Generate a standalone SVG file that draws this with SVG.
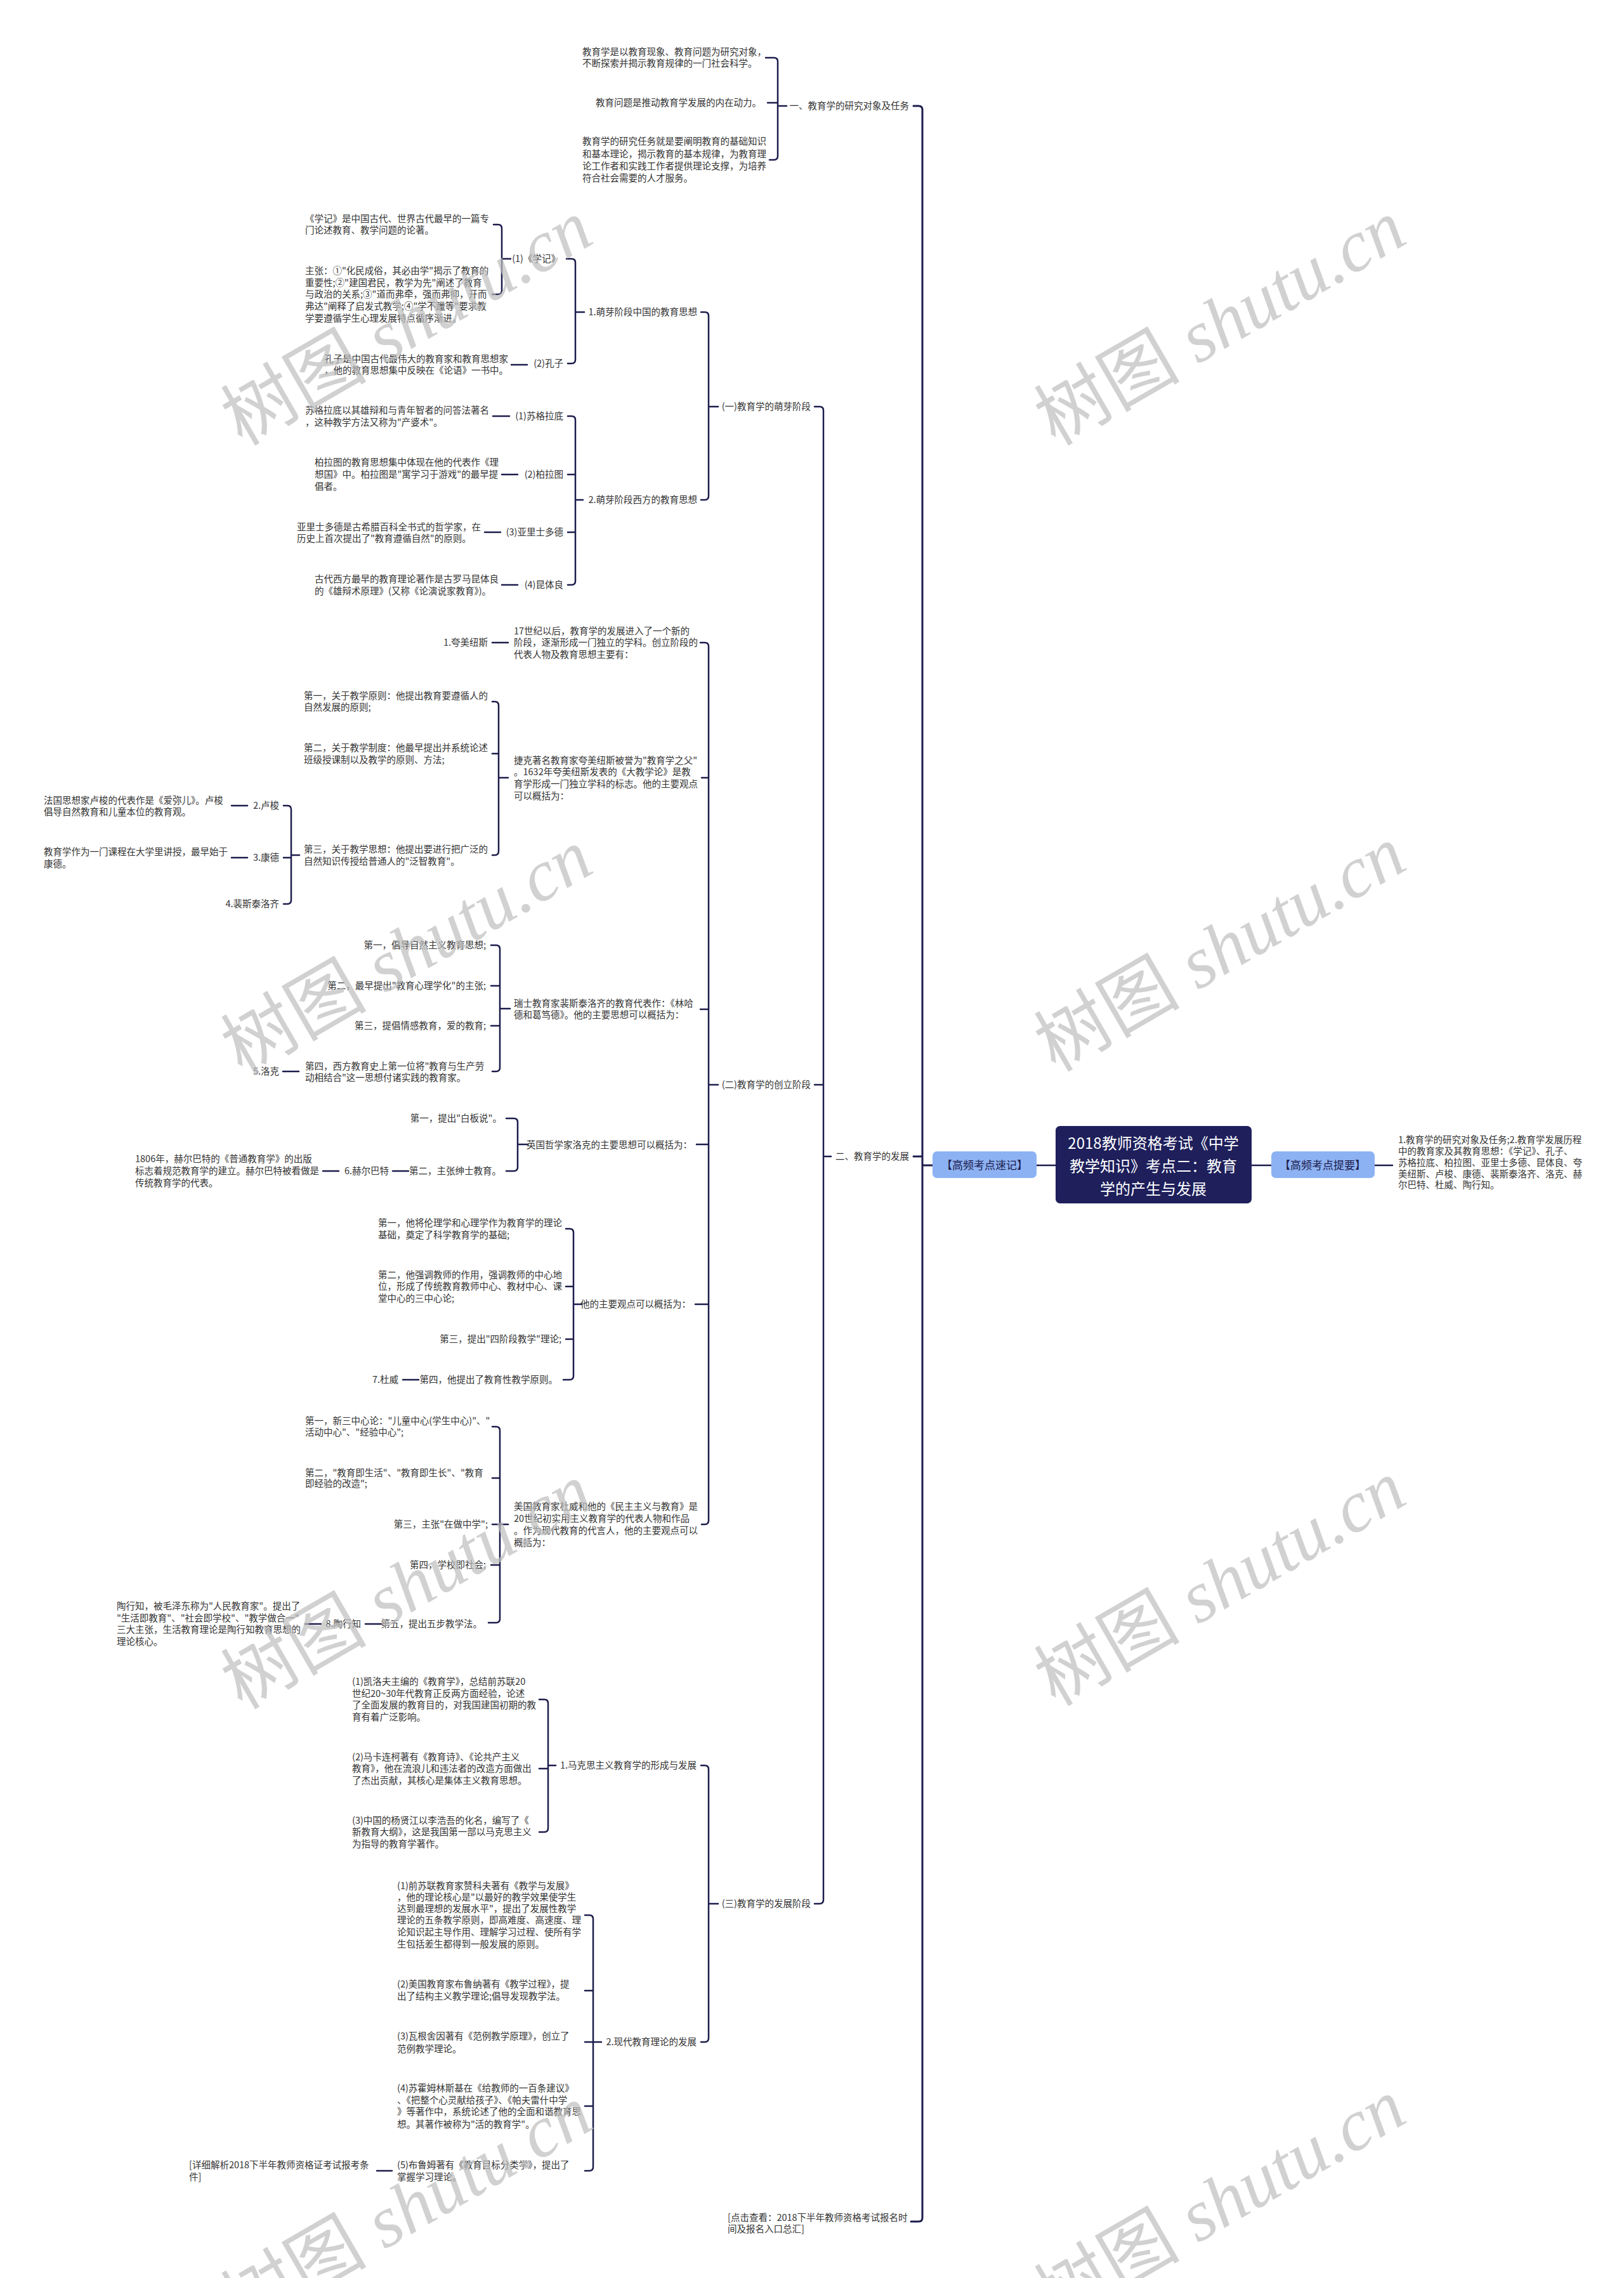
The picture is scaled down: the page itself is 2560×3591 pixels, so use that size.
<svg xmlns="http://www.w3.org/2000/svg" width="2560" height="3591" viewBox="0 0 2560 3591">
<style>
.t{font-family:"Noto Sans CJK SC","Noto Sans",sans-serif;font-size:14.5px;fill:#333}
.e{text-anchor:end}
.c{fill:none;stroke:#1c1c4c;stroke-width:2.5;stroke-linecap:round}
.blue{fill:#8db2f3}
.bt{font-family:"Noto Sans CJK SC","Noto Sans",sans-serif;font-size:17px;fill:#1c1c4c;text-anchor:middle}
.rt{font-family:"Noto Sans CJK SC","Noto Sans",sans-serif;font-size:24px;fill:#fff;text-anchor:middle}
.wm{font-size:115px;fill:#bdbdbd;fill-opacity:0.7;text-anchor:middle}
.wc{font-family:"Noto Sans CJK SC",sans-serif}
.wl{font-family:"Liberation Serif",serif;font-style:italic}
</style>
<rect width="2560" height="3591" fill="#fff"/>

<g id="connectors">
<path class="c" d="M1207,91 H1220 Q1226,91 1226,97 V246 Q1226,252 1220,252 H1213 M1210,162 H1226 M1226,167 H1240"/>
<path class="c" style="stroke-width:3" d="M1440,167 H1448 Q1454,167 1454,173 V3496 Q1454,3502 1448,3502 H1436 M1440,1823 H1454 M1454,1837 H1470"/>
<path class="c" d="M1284,641 H1292 Q1298,641 1298,647 V2995 Q1298,3001 1292,3001 H1284 M1284,1710 H1298 M1298,1823 H1310"/>
<path class="c" d="M1105,492 H1111 Q1117,492 1117,498 V782 Q1117,788 1111,788 H1105 M1117,641 H1132"/>
<path class="c" d="M1104,1013 H1111 Q1117,1013 1117,1019 V2397 Q1117,2403 1111,2403 H1106 M1106,1226 H1117 M1104,1591 H1117 M1098,1804 H1117 M1096,2056 H1117 M1117,1710 H1132"/>
<path class="c" d="M1105,2783 H1111 Q1117,2783 1117,2789 V3213 Q1117,3219 1111,3219 H1105 M1117,3001 H1132"/>
<path class="c" d="M893,408 H901 Q907,408 907,414 V567 Q907,573 901,573 H895 M907,492 H921"/>
<path class="c" d="M778,354 H785 Q791,354 791,360 V458 Q791,464 785,464 H776 M791,408 H805"/>
<path class="c" d="M806,575 H831"/>
<path class="c" d="M895,656 H901 Q907,656 907,662 V916 Q907,922 901,922 H895 M895,748 H907 M895,839 H907 M907,788 H919"/>
<path class="c" d="M777,656 H803 M791,748 H816 M764,839 H789 M791,922 H816"/>
<path class="c" d="M776,1013 H801"/>
<path class="c" d="M776,1106 H780 Q786,1106 786,1112 V1342 Q786,1348 780,1348 H776 M776,1188 H786 M786,1226 H801"/>
<path class="c" d="M447,1270 H453 Q459,1270 459,1276 V1419 Q459,1425 453,1425 H447 M447,1352 H459 M459,1348 H472"/>
<path class="c" d="M365,1270 H390 M365,1352 H390"/>
<path class="c" d="M774,1490 H782 Q788,1490 788,1496 V1683 Q788,1689 782,1689 H776 M774,1554 H788 M774,1617 H788 M788,1590 H804"/>
<path class="c" d="M446,1689 H471"/>
<path class="c" d="M798,1763 H810 Q816,1763 816,1769 V1840 Q816,1846 810,1846 H798 M816,1804 H832"/>
<path class="c" d="M619,1846 H644 M509,1846 H534"/>
<path class="c" d="M892,1937 H898 Q904,1937 904,1943 V2169 Q904,2175 898,2175 H888 M892,2028 H904 M892,2111 H904 M904,2056 H917"/>
<path class="c" d="M635,2175 H660"/>
<path class="c" d="M776,2249 H782 Q788,2249 788,2255 V2552 Q788,2558 782,2558 H770 M776,2330 H788 M776,2403 H801 M774,2467 H788"/>
<path class="c" d="M576,2560 H601 M481,2560 H506"/>
<path class="c" d="M850,2679 H858 Q864,2679 864,2685 V2882 Q864,2888 858,2888 H850 M850,2788 H864 M864,2783 H876"/>
<path class="c" d="M922,3019 H929 Q935,3019 935,3025 V3416 Q935,3422 929,3422 H922 M922,3138 H935 M922,3320 H935 M922,3219 H948"/>
<path class="c" d="M594,3422 H618"/>
<path class="c" d="M1634,1837 H1664 M1973,1837 H2004 M2167,1837 H2195"/>
</g>

<g id="root">
<rect x="1664" y="1775" width="309" height="122" rx="7" fill="#1e1f5b"/>
<text class="rt" x="1818" y="1811">2018教师资格考试《中学</text>
<text class="rt" x="1818" y="1847">教学知识》考点二：教育</text>
<text class="rt" x="1818" y="1883">学的产生与发展</text>
</g>
<g id="n-sujiji">
<rect class="blue" x="1470" y="1815" width="164" height="42" rx="7"/>
<text class="bt" x="1552" y="1843">【高频考点速记】</text>
</g>
<g id="n-tiyao">
<rect class="blue" x="2004" y="1815" width="163" height="42" rx="7"/>
<text class="bt" x="2085" y="1843">【高频考点提要】</text>
</g>
<g id="n-tiyao-text">
<text class="t" x="2204" y="1802">1.教育学的研究对象及任务;2.教育学发展历程</text>
<text class="t" x="2204" y="1820">中的教育家及其教育思想：《学记》、孔子、</text>
<text class="t" x="2204" y="1838">苏格拉底、柏拉图、亚里士多德、昆体良、夸</text>
<text class="t" x="2204" y="1856">美纽斯、卢梭、康德、裴斯泰洛齐、洛克、赫</text>
<text class="t" x="2204" y="1873">尔巴特、杜威、陶行知。</text>
</g>

<g id="n-yi"><text class="t e" x="1433" y="172">一、教育学的研究对象及任务</text></g>
<g id="n-yi-a">
<text class="t" x="918" y="87">教育学是以教育现象、教育问题为研究对象，</text>
<text class="t" x="918" y="105">不断探索并揭示教育规律的一门社会科学。</text>
</g>
<g id="n-yi-b"><text class="t e" x="1200" y="167">教育问题是推动教育学发展的内在动力。</text></g>
<g id="n-yi-c">
<text class="t" x="918" y="228">教育学的研究任务就是要阐明教育的基础知识</text>
<text class="t" x="918" y="248">和基本理论，揭示教育的基本规律，为教育理</text>
<text class="t" x="918" y="267">论工作者和实践工作者提供理论支撑，为培养</text>
<text class="t" x="918" y="286">符合社会需要的人才服务。</text>
</g>

<g id="n-er"><text class="t e" x="1433" y="1828">二、教育学的发展</text></g>
<g id="n-dianji">
<text class="t" x="1147" y="3501">[点击查看：2018下半年教师资格考试报名时</text>
<text class="t" x="1147" y="3519">间及报名入口总汇]</text>
</g>

<g id="n-s1"><text class="t e" x="1278" y="646">(一)教育学的萌芽阶段</text></g>
<g id="n-s2"><text class="t e" x="1278" y="1715">(二)教育学的创立阶段</text></g>
<g id="n-s3"><text class="t e" x="1278" y="3006">(三)教育学的发展阶段</text></g>

<g id="n-zg"><text class="t e" x="1099" y="497">1.萌芽阶段中国的教育思想</text></g>
<g id="n-xj"><text class="t e" x="883" y="413">(1)《学记》</text></g>
<g id="n-xj1">
<text class="t" x="481" y="350">《学记》是中国古代、世界古代最早的一篇专</text>
<text class="t" x="481" y="368">门论述教育、教学问题的论著。</text>
</g>
<g id="n-xj2">
<text class="t" x="481" y="432">主张：①"化民成俗，其必由学"揭示了教育的</text>
<text class="t" x="481" y="451">重要性;②"建国君民，教学为先"阐述了教育</text>
<text class="t" x="481" y="469">与政治的关系;③"道而弗牵，强而弗抑，开而</text>
<text class="t" x="481" y="488">弗达"阐释了启发式教学;④"学不躐等"要求教</text>
<text class="t" x="481" y="507">学要遵循学生心理发展特点循序渐进。</text>
</g>
<g id="n-kz"><text class="t e" x="888" y="578">(2)孔子</text></g>
<g id="n-kz1">
<text class="t" x="511" y="571">孔子是中国古代最伟大的教育家和教育思想家</text>
<text class="t" x="511" y="589">，他的教育思想集中反映在《论语》一书中。</text>
</g>

<g id="n-xf"><text class="t e" x="1099" y="793">2.萌芽阶段西方的教育思想</text></g>
<g id="n-sg"><text class="t e" x="888" y="661">(1)苏格拉底</text></g>
<g id="n-sg1">
<text class="t" x="481" y="652">苏格拉底以其雄辩和与青年智者的问答法著名</text>
<text class="t" x="481" y="671">，这种教学方法又称为"产婆术"。</text>
</g>
<g id="n-bl"><text class="t e" x="888" y="753">(2)柏拉图</text></g>
<g id="n-bl1">
<text class="t" x="496" y="734">柏拉图的教育思想集中体现在他的代表作《理</text>
<text class="t" x="496" y="753">想国》中。柏拉图是"寓学习于游戏"的最早提</text>
<text class="t" x="496" y="772">倡者。</text>
</g>
<g id="n-yl"><text class="t e" x="888" y="844">(3)亚里士多德</text></g>
<g id="n-yl1">
<text class="t" x="468" y="836">亚里士多德是古希腊百科全书式的哲学家，在</text>
<text class="t" x="468" y="854">历史上首次提出了"教育遵循自然"的原则。</text>
</g>
<g id="n-kt"><text class="t e" x="888" y="927">(4)昆体良</text></g>
<g id="n-kt1">
<text class="t" x="496" y="918">古代西方最早的教育理论著作是古罗马昆体良</text>
<text class="t" x="496" y="937">的《雄辩术原理》(又称《论演说家教育》)。</text>
</g>

<g id="n-k0">
<text class="t" x="810" y="1000">17世纪以后，教育学的发展进入了一个新的</text>
<text class="t" x="810" y="1018">阶段，逐渐形成一门独立的学科。创立阶段的</text>
<text class="t" x="810" y="1037">代表人物及教育思想主要有：</text>
</g>
<g id="n-kmn"><text class="t e" x="769" y="1018">1.夸美纽斯</text></g>
<g id="n-jk">
<text class="t" x="810" y="1204">捷克著名教育家夸美纽斯被誉为"教育学之父"</text>
<text class="t" x="810" y="1222">。1632年夸美纽斯发表的《大教学论》是教</text>
<text class="t" x="810" y="1241">育学形成一门独立学科的标志。他的主要观点</text>
<text class="t" x="810" y="1260">可以概括为：</text>
</g>
<g id="n-jk1">
<text class="t" x="479" y="1102">第一，关于教学原则：他提出教育要遵循人的</text>
<text class="t" x="479" y="1120">自然发展的原则;</text>
</g>
<g id="n-jk2">
<text class="t" x="479" y="1184">第二，关于教学制度：他最早提出并系统论述</text>
<text class="t" x="479" y="1203">班级授课制以及教学的原则、方法;</text>
</g>
<g id="n-jk3">
<text class="t" x="479" y="1344">第三，关于教学思想：他提出要进行把广泛的</text>
<text class="t" x="479" y="1363">自然知识传授给普通人的"泛智教育"。</text>
</g>
<g id="n-ls"><text class="t e" x="440" y="1275">2.卢梭</text></g>
<g id="n-ls1">
<text class="t" x="69" y="1267">法国思想家卢梭的代表作是《爱弥儿》。卢梭</text>
<text class="t" x="69" y="1285">倡导自然教育和儿童本位的教育观。</text>
</g>
<g id="n-kd"><text class="t e" x="440" y="1357">3.康德</text></g>
<g id="n-kd1">
<text class="t" x="69" y="1348">教育学作为一门课程在大学里讲授，最早始于</text>
<text class="t" x="69" y="1367">康德。</text>
</g>
<g id="n-pst"><text class="t e" x="440" y="1430">4.裴斯泰洛齐</text></g>

<g id="n-rs">
<text class="t" x="810" y="1587">瑞士教育家裴斯泰洛齐的教育代表作：《林哈</text>
<text class="t" x="810" y="1605">德和葛笃德》。他的主要思想可以概括为：</text>
</g>
<g id="n-rs1"><text class="t e" x="766" y="1495">第一，倡导自然主义教育思想;</text></g>
<g id="n-rs2"><text class="t e" x="766" y="1559">第二，最早提出"教育心理学化"的主张;</text></g>
<g id="n-rs3"><text class="t e" x="766" y="1622">第三，提倡情感教育，爱的教育;</text></g>
<g id="n-rs4">
<text class="t" x="481" y="1686">第四，西方教育史上第一位将"教育与生产劳</text>
<text class="t" x="481" y="1704">动相结合"这一思想付诸实践的教育家。</text>
</g>
<g id="n-lk"><text class="t e" x="440" y="1694">5.洛克</text></g>

<g id="n-yg"><text class="t e" x="1091" y="1810">英国哲学家洛克的主要思想可以概括为：</text></g>
<g id="n-yg1"><text class="t e" x="791" y="1768">第一，提出"白板说"。</text></g>
<g id="n-yg2"><text class="t e" x="790" y="1851">第二，主张绅士教育。</text></g>
<g id="n-hebt"><text class="t e" x="613" y="1851">6.赫尔巴特</text></g>
<g id="n-hebt1">
<text class="t" x="213" y="1832">1806年，赫尔巴特的《普通教育学》的出版</text>
<text class="t" x="213" y="1851">标志着规范教育学的建立。赫尔巴特被看做是</text>
<text class="t" x="213" y="1870">传统教育学的代表。</text>
</g>

<g id="n-td"><text class="t e" x="1089" y="2061">他的主要观点可以概括为：</text></g>
<g id="n-td1">
<text class="t" x="596" y="1933">第一，他将伦理学和心理学作为教育学的理论</text>
<text class="t" x="596" y="1952">基础，奠定了科学教育学的基础;</text>
</g>
<g id="n-td2">
<text class="t" x="596" y="2015">第二，他强调教师的作用，强调教师的中心地</text>
<text class="t" x="596" y="2033">位，形成了传统教育教师中心、教材中心、课</text>
<text class="t" x="596" y="2052">堂中心的三中心论;</text>
</g>
<g id="n-td3"><text class="t e" x="885" y="2116">第三，提出"四阶段教学"理论;</text></g>
<g id="n-td4"><text class="t e" x="879" y="2180">第四，他提出了教育性教学原则。</text></g>
<g id="n-dw"><text class="t e" x="628" y="2180">7.杜威</text></g>

<g id="n-mg">
<text class="t" x="810" y="2380">美国教育家杜威和他的《民主主义与教育》是</text>
<text class="t" x="810" y="2399">20世纪初实用主义教育学的代表人物和作品</text>
<text class="t" x="810" y="2418">。作为现代教育的代言人，他的主要观点可以</text>
<text class="t" x="810" y="2437">概括为：</text>
</g>
<g id="n-mg1">
<text class="t" x="481" y="2245">第一，新三中心论："儿童中心(学生中心)"、"</text>
<text class="t" x="481" y="2263">活动中心"、"经验中心";</text>
</g>
<g id="n-mg2">
<text class="t" x="481" y="2327">第二，"教育即生活"、"教育即生长"、"教育</text>
<text class="t" x="481" y="2344">即经验的改造";</text>
</g>
<g id="n-mg3"><text class="t e" x="769" y="2408">第三，主张"在做中学";</text></g>
<g id="n-mg4"><text class="t e" x="766" y="2472">第四，学校即社会;</text></g>
<g id="n-mg5"><text class="t e" x="760" y="2565">第五，提出五步教学法。</text></g>
<g id="n-txz"><text class="t e" x="569" y="2565">8.陶行知</text></g>
<g id="n-txz1">
<text class="t" x="184" y="2537">陶行知，被毛泽东称为"人民教育家"。提出了</text>
<text class="t" x="184" y="2556">"生活即教育"、"社会即学校"、"教学做合一"</text>
<text class="t" x="184" y="2574">三大主张，生活教育理论是陶行知教育思想的</text>
<text class="t" x="184" y="2593">理论核心。</text>
</g>

<g id="n-mk"><text class="t e" x="1098" y="2788">1.马克思主义教育学的形成与发展</text></g>
<g id="n-mk1">
<text class="t" x="555" y="2656">(1)凯洛夫主编的《教育学》，总结前苏联20</text>
<text class="t" x="555" y="2675">世纪20~30年代教育正反两方面经验，论述</text>
<text class="t" x="555" y="2693">了全面发展的教育目的，对我国建国初期的教</text>
<text class="t" x="555" y="2712">育有着广泛影响。</text>
</g>
<g id="n-mk2">
<text class="t" x="555" y="2775">(2)马卡连柯著有《教育诗》、《论共产主义</text>
<text class="t" x="555" y="2793">教育》，他在流浪儿和违法者的改造方面做出</text>
<text class="t" x="555" y="2812">了杰出贡献，其核心是集体主义教育思想。</text>
</g>
<g id="n-mk3">
<text class="t" x="555" y="2875">(3)中国的杨贤江以李浩吾的化名，编写了《</text>
<text class="t" x="555" y="2893">新教育大纲》，这是我国第一部以马克思主义</text>
<text class="t" x="555" y="2912">为指导的教育学著作。</text>
</g>

<g id="n-xd"><text class="t e" x="1098" y="3224">2.现代教育理论的发展</text></g>
<g id="n-xd1">
<text class="t" x="626" y="2978">(1)前苏联教育家赞科夫著有《教学与发展》</text>
<text class="t" x="626" y="2996">，他的理论核心是"以最好的教学效果使学生</text>
<text class="t" x="626" y="3014">达到最理想的发展水平"，提出了发展性教学</text>
<text class="t" x="626" y="3032">理论的五条教学原则，即高难度、高速度、理</text>
<text class="t" x="626" y="3051">论知识起主导作用、理解学习过程、使所有学</text>
<text class="t" x="626" y="3070">生包括差生都得到一般发展的原则。</text>
</g>
<g id="n-xd2">
<text class="t" x="626" y="3133">(2)美国教育家布鲁纳著有《教学过程》，提</text>
<text class="t" x="626" y="3152">出了结构主义教学理论;倡导发现教学法。</text>
</g>
<g id="n-xd3">
<text class="t" x="626" y="3215">(3)瓦根舍因著有《范例教学原理》，创立了</text>
<text class="t" x="626" y="3235">范例教学理论。</text>
</g>
<g id="n-xd4">
<text class="t" x="626" y="3297">(4)苏霍姆林斯基在《给教师的一百条建议》</text>
<text class="t" x="626" y="3316">、《把整个心灵献给孩子》、《帕夫雷什中学</text>
<text class="t" x="626" y="3334">》等著作中，系统论述了他的全面和谐教育思</text>
<text class="t" x="626" y="3354">想。其著作被称为"活的教育学"。</text>
</g>
<g id="n-xd5">
<text class="t" x="626" y="3418">(5)布鲁姆著有《教育目标分类学》，提出了</text>
<text class="t" x="626" y="3437">掌握学习理论。</text>
</g>
<g id="n-xx">
<text class="t" x="298" y="3418">[详细解析2018下半年教师资格证考试报考条</text>
<text class="t" x="298" y="3437">件]</text>
</g>

<g id="watermarks">
<text class="wm" transform="rotate(-30 641 508)" x="641" y="548"><tspan class="wc">树图</tspan><tspan class="wl"> shutu.cn</tspan></text>
<text class="wm" transform="rotate(-30 1923 508)" x="1923" y="548"><tspan class="wc">树图</tspan><tspan class="wl"> shutu.cn</tspan></text>
<text class="wm" transform="rotate(-30 641 1500)" x="641" y="1540"><tspan class="wc">树图</tspan><tspan class="wl"> shutu.cn</tspan></text>
<text class="wm" transform="rotate(-30 1923 1495)" x="1923" y="1535"><tspan class="wc">树图</tspan><tspan class="wl"> shutu.cn</tspan></text>
<text class="wm" transform="rotate(-30 641 2500)" x="641" y="2540"><tspan class="wc">树图</tspan><tspan class="wl"> shutu.cn</tspan></text>
<text class="wm" transform="rotate(-30 1923 2495)" x="1923" y="2535"><tspan class="wc">树图</tspan><tspan class="wl"> shutu.cn</tspan></text>
<text class="wm" transform="rotate(-30 641 3480)" x="641" y="3520"><tspan class="wc">树图</tspan><tspan class="wl"> shutu.cn</tspan></text>
<text class="wm" transform="rotate(-30 1923 3470)" x="1923" y="3510"><tspan class="wc">树图</tspan><tspan class="wl"> shutu.cn</tspan></text>
</g>
</svg>
